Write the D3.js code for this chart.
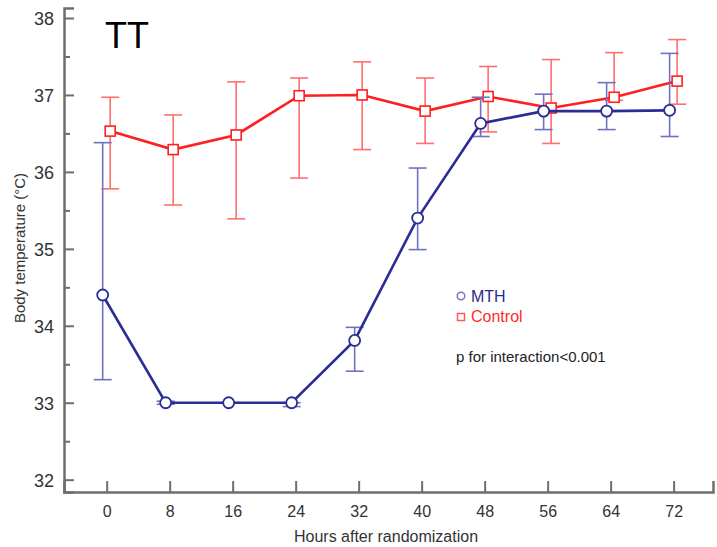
<!DOCTYPE html>
<html>
<head>
<meta charset="utf-8">
<script src="https://cdn.jsdelivr.net/npm/d3@7"></script>
<style>
  body { margin: 0; background: #fff; }
  svg { display: block; font-family: "Liberation Sans", Arial, sans-serif; }
</style>
</head>
<body>
<div id="chart"></div>
<script>
// data
const hours = [0, 8, 16, 24, 32, 40, 48, 56, 64, 72];
const mthMean = [34.40, 33.00, 33.00, 33.00, 33.81, 35.40, 36.63, 36.79, 36.79, 36.80];
const mthLow  = [33.30, 32.98, 33.00, 32.95, 33.41, 34.99, 36.46, 36.55, 36.55, 36.46];
const mthHigh = [36.38, 33.02, 33.00, 33.00, 33.98, 36.05, 36.97, 37.01, 37.16, 37.54];
const ctlMean = [36.53, 36.29, 36.48, 36.99, 37.00, 36.79, 36.98, 36.83, 36.97, 37.18];
const ctlLow  = [35.78, 35.57, 35.39, 35.92, 36.29, 36.37, 36.52, 36.37, 36.93, 36.88];
const ctlHigh = [36.97, 36.74, 37.17, 37.22, 37.43, 37.22, 37.37, 37.46, 37.55, 37.72];
const yTicks = [32, 33, 34, 35, 36, 37, 38];
const yMinor = [32.5, 33.5, 34.5, 35.5, 36.5, 37.5];

const width = 717, height = 547;
const x0 = 64, x1 = 713, yTop = 8, yBot = 492;

const svg = d3.select('#chart').append('svg')
  .attr('width', width)
  .attr('height', height);

const x = d3.scaleLinear().domain([-5.42, 77.0]).range([x0, x1]);
const y = d3.scaleLinear().domain([31.84, 38.13]).range([yBot, yTop]);

const axisColor = '#6e6e6e';

// y axis, major + minor ticks pointing inward
const yAxis = svg.append('g')
  .attr('transform', 'translate(' + x0 + ',0)')
  .call(d3.axisLeft(y).tickValues(yTicks).tickSize(-10).tickPadding(10).tickFormat(d3.format('d')));
svg.append('g')
  .attr('transform', 'translate(' + x0 + ',0)')
  .call(d3.axisLeft(y).tickValues(yMinor).tickSize(-6).tickFormat(''))
  .call(g => g.select('.domain').remove());

// x axis, ticks pointing up
const xAxis = svg.append('g')
  .attr('transform', 'translate(0,' + yBot + ')')
  .call(d3.axisBottom(x).tickValues(hours).tickSize(-11).tickPadding(14));

svg.selectAll('.domain')
  .attr('stroke', axisColor)
  .attr('stroke-width', 2.5);
svg.selectAll('.tick line')
  .attr('stroke', axisColor)
  .attr('stroke-width', 2);
svg.selectAll('.tick text')
  .attr('fill', '#333')
  .attr('font-family', '"Liberation Sans", Arial, sans-serif');
yAxis.selectAll('.tick text').attr('font-size', 18).attr('dy', '0.35em');
xAxis.selectAll('.tick text').attr('font-size', 16);

// axis titles
svg.append('text')
  .attr('x', 386).attr('y', 542)
  .attr('text-anchor', 'middle')
  .attr('font-size', 16)
  .attr('fill', '#333')
  .text('Hours after randomization');
svg.append('text')
  .attr('transform', 'translate(25,248) rotate(-90)')
  .attr('text-anchor', 'middle')
  .attr('font-size', 15)
  .attr('fill', '#333')
  .text('Body temperature (°C)');

svg.append('text')
  .attr('x', 105).attr('y', 48)
  .attr('font-size', 36)
  .attr('fill', '#000')
  .text('TT');

function rows(mean, low, high) {
  return hours.map((h, i) => ({ h: h, m: mean[i], lo: low[i], hi: high[i] }));
}

function drawSeries(data, dx, lineColor, barColor, shape) {
  const g = svg.append('g');
  const cap = 9;
  const eb = g.selectAll('g.eb').data(data).enter().append('g')
    .attr('stroke', barColor)
    .attr('stroke-width', 1.6);
  eb.append('line')
    .attr('x1', d => x(d.h) + dx).attr('x2', d => x(d.h) + dx)
    .attr('y1', d => y(d.lo)).attr('y2', d => y(d.hi));
  eb.append('line')
    .attr('x1', d => x(d.h) + dx - cap).attr('x2', d => x(d.h) + dx + cap)
    .attr('y1', d => y(d.lo)).attr('y2', d => y(d.lo));
  eb.append('line')
    .attr('x1', d => x(d.h) + dx - cap).attr('x2', d => x(d.h) + dx + cap)
    .attr('y1', d => y(d.hi)).attr('y2', d => y(d.hi));

  const line = d3.line().x(d => x(d.h) + dx).y(d => y(d.m));
  g.append('path')
    .datum(data)
    .attr('fill', 'none')
    .attr('stroke', lineColor)
    .attr('stroke-width', 2.6)
    .attr('d', line);

  if (shape === 'circle') {
    g.selectAll('circle').data(data).enter().append('circle')
      .attr('cx', d => x(d.h) + dx).attr('cy', d => y(d.m))
      .attr('r', 5.5)
      .attr('fill', '#fff')
      .attr('stroke', lineColor)
      .attr('stroke-width', 1.8);
  } else {
    g.selectAll('rect').data(data).enter().append('rect')
      .attr('x', d => x(d.h) + dx - 5).attr('y', d => y(d.m) - 5)
      .attr('width', 10).attr('height', 10)
      .attr('fill', '#fff')
      .attr('stroke', lineColor)
      .attr('stroke-width', 1.6);
  }
}

drawSeries(rows(ctlMean, ctlLow, ctlHigh), 3.5, '#ff1f1f', '#ff6f6f', 'square');
drawSeries(rows(mthMean, mthLow, mthHigh), -4, '#2a2d96', '#6f72c0', 'circle');

// legend
svg.append('circle')
  .attr('cx', 461).attr('cy', 296).attr('r', 3.8)
  .attr('fill', '#fff').attr('stroke', '#7275c2').attr('stroke-width', 1.5);
svg.append('text')
  .attr('x', 471).attr('y', 302)
  .attr('font-size', 16).attr('fill', '#2a2a8e')
  .text('MTH');
svg.append('rect')
  .attr('x', 457.5).attr('y', 313.5).attr('width', 7).attr('height', 7)
  .attr('fill', '#fff').attr('stroke', '#ff5a5a').attr('stroke-width', 1.5);
svg.append('text')
  .attr('x', 471).attr('y', 322)
  .attr('font-size', 16).attr('fill', '#ff2a2a')
  .text('Control');
svg.append('text')
  .attr('x', 456).attr('y', 362)
  .attr('font-size', 15).attr('fill', '#222')
  .text('p for interaction<0.001');
</script>
</body>
</html>
